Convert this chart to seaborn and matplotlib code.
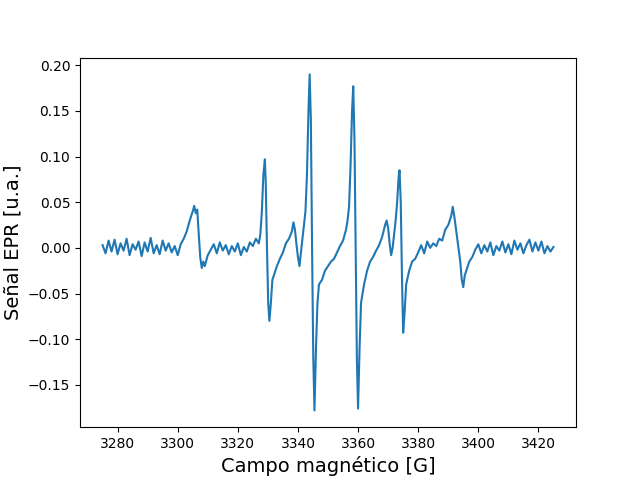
import numpy as np
import matplotlib
matplotlib.use("Agg")
import matplotlib.pyplot as plt
import seaborn as sns

campo = [
    3275, 3276, 3277, 3278, 3279, 3280, 3281, 3282, 3283, 3284, 3285, 3286, 3287, 3288, 3289,
    3290, 3291, 3292, 3293, 3294, 3295, 3296, 3297, 3298, 3299, 3300,
    3301, 3302, 3303, 3304, 3305, 3305.5, 3306, 3306.5, 3307, 3307.5, 3308, 3308.5, 3309, 3310,
    3311, 3312, 3313, 3314, 3315, 3316, 3317, 3318, 3319, 3320, 3321, 3322, 3323, 3324, 3325,
    3326, 3327, 3327.5, 3328, 3328.5, 3329, 3329.3, 3329.7, 3330.1, 3330.5, 3331, 3331.5, 3332,
    3333, 3334, 3335, 3336, 3337, 3338, 3338.5, 3339, 3339.5, 3340, 3340.5, 3341, 3341.5, 3342,
    3342.5, 3343, 3343.5, 3343.9, 3344.3, 3344.7, 3345.1, 3345.5, 3346, 3346.5, 3347, 3348, 3349,
    3350, 3351, 3352, 3353, 3354, 3355, 3356, 3356.5, 3357, 3357.5, 3358, 3358.4, 3358.8, 3359.2,
    3359.6, 3360, 3360.5, 3361, 3362, 3363, 3364, 3365, 3366, 3367, 3368, 3369, 3369.5, 3370,
    3370.5, 3371, 3371.5, 3372, 3372.5, 3373, 3373.5, 3373.8, 3374.2, 3374.6, 3375, 3375.5, 3376,
    3377, 3378, 3379, 3380, 3381, 3382, 3383, 3384, 3385, 3386, 3387, 3388, 3389, 3390, 3391,
    3391.5, 3392, 3393, 3394, 3394.5, 3395, 3395.5, 3396, 3397, 3398, 3399, 3400, 3401, 3402,
    3403, 3404, 3405, 3406, 3407, 3408, 3409, 3410, 3411, 3412, 3413, 3414, 3415, 3416, 3417,
    3418, 3419, 3420, 3421, 3422, 3423, 3424, 3425,
]
senal = [
    0.003, -0.006, 0.008, -0.004, 0.009, -0.007, 0.005, -0.003, 0.010, -0.008, 0.004, -0.002, 0.007, -0.009, 0.006,
    -0.004, 0.011, -0.006, 0.003, -0.007, 0.008, -0.003, 0.005, -0.005, 0.002, -0.008,
    0.004, 0.010, 0.018, 0.030, 0.040, 0.046, 0.038, 0.042, 0.015, -0.010, -0.022, -0.015, -0.020, -0.008,
    -0.002, 0.004, -0.006, 0.006, -0.003, 0.003, -0.007, 0.002, -0.004, 0.005, -0.008, 0.001, -0.004, 0.006, 0.002,
    0.010, 0.005, 0.015, 0.040, 0.080, 0.097, 0.070, 0.000, -0.060, -0.080, -0.060, -0.035, -0.030,
    -0.020, -0.012, -0.005, 0.005, 0.010, 0.018, 0.028, 0.020, 0.004, -0.010, -0.020, -0.005, 0.010, 0.025,
    0.040, 0.080, 0.150, 0.190, 0.140, 0.000, -0.120, -0.178, -0.110, -0.060, -0.040, -0.035, -0.025,
    -0.020, -0.015, -0.012, -0.005, 0.002, 0.008, 0.020, 0.030, 0.045, 0.090, 0.150, 0.177, 0.120, 0.000,
    -0.120, -0.176, -0.110, -0.060, -0.040, -0.025, -0.015, -0.010, -0.003, 0.003, 0.012, 0.025, 0.030, 0.022,
    0.005, -0.008, 0.000, 0.015, 0.030, 0.050, 0.078, 0.085, 0.050, -0.030, -0.093, -0.070, -0.040,
    -0.025, -0.015, -0.012, -0.005, 0.003, -0.006, 0.007, 0.000, 0.005, 0.002, 0.010, 0.008, 0.020, 0.025, 0.035,
    0.045, 0.035, 0.010, -0.015, -0.035, -0.043, -0.030, -0.025, -0.015, -0.010, -0.002, 0.004, -0.006, 0.003,
    -0.004, 0.006, -0.008, 0.002, -0.003, 0.007, -0.005, 0.004, -0.007, 0.008, -0.002, 0.005, -0.006, 0.003, 0.009,
    -0.004, 0.006, -0.003, 0.007, -0.006, 0.002, -0.004, 0.001,
]

fig, ax = plt.subplots(figsize=(6.4, 4.8), dpi=100)
sns.lineplot(x=campo, y=senal, ax=ax, color="#1f77b4", linewidth=1.5)
ax.set_xlabel("Campo magnético [G]", fontsize=14)
ax.set_ylabel("Señal EPR [u.a.]", fontsize=14)
fig.savefig("out.png")
